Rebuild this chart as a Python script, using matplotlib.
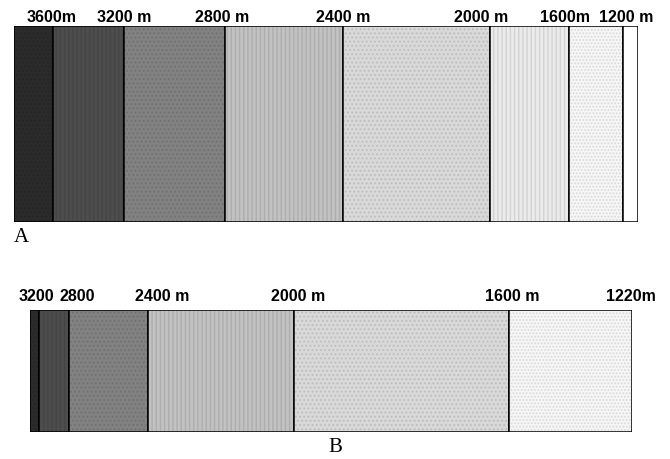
import matplotlib.pyplot as plt
from matplotlib.transforms import blended_transform_factory

# Panel A: segment lengths along the transect (left = high elevation)
widths_a = [39, 71, 101, 118, 147, 79, 54, 15]
colors_a = ['#2b2b2b', '#4d4d4d', '#828282', '#c2c2c2', '#d9d9d9', '#ebebeb', '#f6f6f6', '#ffffff']
hatch_a = ['....', '||||', '....', '||||', '....', '||||', '.....', None]
labels_a = ['3600m', '3200 m', '2800 m', '2400 m', '2000 m', '1600m', '1200 m']
label_x_a = [38, 110, 208, 329, 467, 551, 612]

# Panel B
widths_b = [9, 30, 79, 146, 215, 123]
colors_b = ['#2b2b2b', '#4d4d4d', '#828282', '#c2c2c2', '#d9d9d9', '#f6f6f6']
hatch_b = ['....', '||||', '....', '||||', '....', '.....']
labels_b = ['3200', '2800', '2400 m', '2000 m', '1600 m', '1220m']
label_x_b = [6, 47, 132, 268, 482, 601]

fig = plt.figure(figsize=(6.7, 4.59), dpi=100)


def draw_strip(ax, widths, colors, hatches, labels, label_x, gap):
    left = 0
    for w, c, h in zip(widths, colors, hatches):
        ax.barh(0, w, left=left, height=1, color=c, edgecolor='none', align='edge')
        if h:
            ax.barh(0, w, left=left, height=1, color='none', edgecolor=(0, 0, 0, 0.1),
                    hatch=h, linewidth=0, align='edge')
        ax.barh(0, w, left=left, height=1, color='none', edgecolor='black',
                linewidth=1.1, align='edge')
        left += w
    ax.set_xlim(0, left)
    ax.set_ylim(0, 1)
    ax.axis('off')
    trans = blended_transform_factory(ax.transData, ax.transAxes)
    for x, t in zip(label_x, labels):
        ax.annotate(t, (x, 1), xycoords=trans, xytext=(0, gap), textcoords='offset points',
                    ha='center', va='bottom', fontsize=11.5, fontweight='bold',
                    family='Liberation Sans', annotation_clip=False)


ax_a = fig.add_axes([14 / 670, (459 - 222) / 459, 624 / 670, 196 / 459])
draw_strip(ax_a, widths_a, colors_a, hatch_a, labels_a, label_x_a, 1.0)

ax_b = fig.add_axes([30 / 670, (459 - 432) / 459, 602 / 670, 122 / 459])
draw_strip(ax_b, widths_b, colors_b, hatch_b, labels_b, label_x_b, 4.0)

fig.text(14 / 670, 1 - 238 / 459, 'A', family='Liberation Serif', fontsize=15,
         ha='left', va='center')
fig.text(335 / 670, 1 - 448 / 459, 'B', family='Liberation Serif', fontsize=15,
         ha='center', va='center')

fig.savefig('out.png', dpi=100)
